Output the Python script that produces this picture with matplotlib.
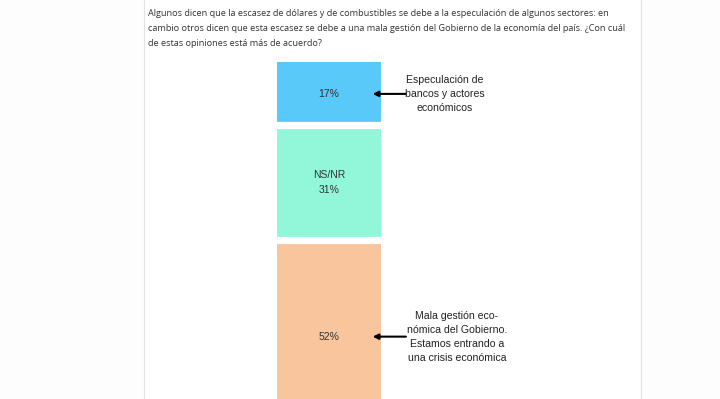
import matplotlib.pyplot as plt
import numpy as np

W, H = 720, 399

question = ("Algunos dicen que la escasez de dólares y de combustibles se debe a la especulación de algunos sectores: en\n"
            "cambio otros dicen que esta escasez se debe a una mala gestión del Gobierno de la economía del país. ¿Con cuál\n"
            "de estas opiniones está más de acuerdo?")
segments = ['Especulación', 'NS/NR', 'Mala gestión']
values = [17, 31, 52]
inner_labels = ['17%', 'NS/NR\n31%', '52%']
side_labels = ['Especulación de\nbancos y actores\neconómicos', None,
               'Mala gestión eco-\nnómica del Gobierno.\nEstamos entrando a\nuna crisis económica']
colors = ['#58c9f8', '#91f7d8', '#f9c59c']


def px(x0, y0, x1, y1):
    # pixel box (top-left origin) -> figure fraction rect
    return [x0 / W, 1 - y1 / H, (x1 - x0) / W, (y1 - y0) / H]


fig = plt.figure(figsize=(W / 100, H / 100), dpi=100)
fig.patch.set_facecolor('#fdfdfd')

# white card with thin border
card = fig.add_axes(px(144, -5, 641, 410))
card.set_facecolor('white')
card.set_xticks([])
card.set_yticks([])
for s in card.spines.values():
    s.set_color('#e2e2e2')
    s.set_linewidth(0.8)

# one line at a time so the rows sit where the reference has them
for k, line in enumerate(question.split('\n')):
    fig.text(148 / W, 1 - (14 + 14.5 * k) / H, line, fontsize=6.6, family='Open Sans',
             color='#333333', va='center', ha='left')

# stacked bar: 0% at y=62.4px, 100% at y=433px (cut off by figure)
ax = fig.add_axes(px(277, 62.4, 381, 433))
ax.set_xlim(-0.5, 0.5)
ax.set_ylim(100, 0)
ax.axis('off')

bottoms = np.concatenate([[0], np.cumsum(values)[:-1]])
ax.bar(0, values, width=1, bottom=bottoms, color=colors, align='center')
for b in bottoms[1:]:
    ax.axhline(b, color='white', lw=5.2)

for i, (v, b) in enumerate(zip(values, bottoms)):
    mid = b + v / 2
    ax.text(0, mid, inner_labels[i], ha='center', va='center', fontsize=7.5,
            family='Liberation Sans', color='#333333', linespacing=1.6)
    if side_labels[i]:
        ax.annotate('', xy=(0.42, mid), xytext=(0.74, mid),
                    arrowprops=dict(arrowstyle='-|>', color='black', lw=1.5,
                                    mutation_scale=8, shrinkA=0, shrinkB=0),
                    annotation_clip=False)
        ax.text(1.115 if i == 0 else 1.23, mid, side_labels[i],
                ha='center', va='center', fontsize=7.6, family='Liberation Sans',
                color='#222222', linespacing=1.5, clip_on=False)

fig.savefig('out.png', dpi=100, facecolor=fig.get_facecolor())
